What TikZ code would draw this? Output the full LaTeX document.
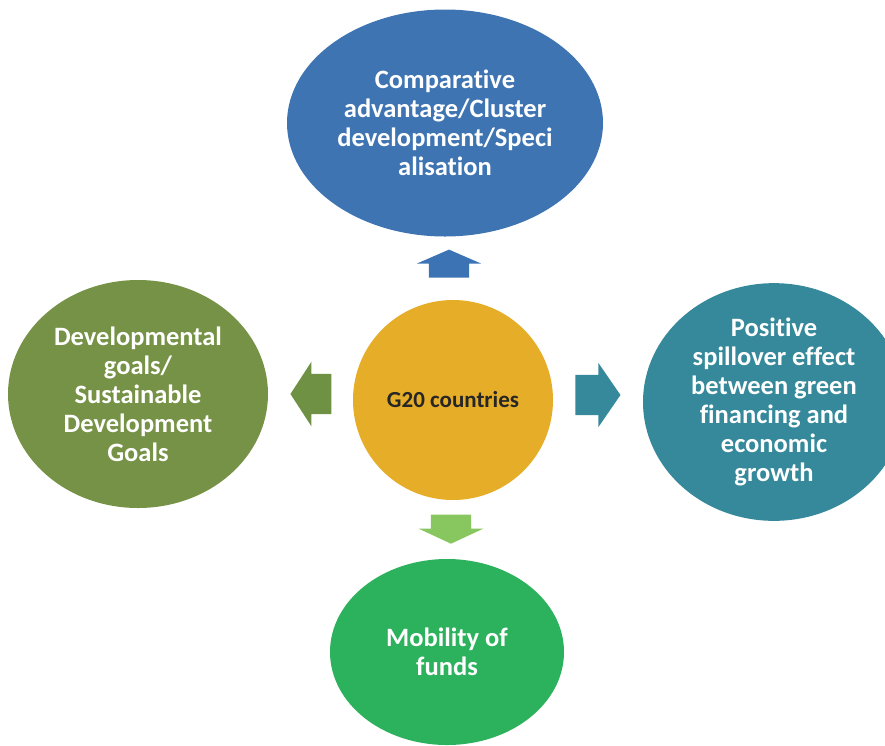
\documentclass[tikz,border=0pt]{standalone}
\usepackage{fontspec}
\setmainfont{Carlito}[Ligatures=NoCommon]
\usepackage{xcolor}
\usetikzlibrary{shapes.geometric,shapes.arrows}

\definecolor{topblue}{RGB}{62,116,178}
\definecolor{upblue}{RGB}{59,115,180}
\definecolor{hubgold}{RGB}{230,173,40}
\definecolor{olive}{RGB}{118,146,70}
\definecolor{olivearrow}{RGB}{110,145,68}
\definecolor{teal}{RGB}{53,137,155}
\definecolor{fundgreen}{RGB}{44,178,92}
\definecolor{lightgreen}{RGB}{136,199,96}

\begin{document}
\begin{tikzpicture}[x=1pt,y=-1pt,
    bubble/.style={ellipse,inner sep=0pt,align=center,text=white,font=\fontsize{26.5}{29}\selectfont\bfseries},
    blockarrow/.style={single arrow,inner xsep=0pt,inner ysep=20pt,single arrow head extend=12pt,single arrow head indent=0pt}]
    \useasboundingbox (0,0) rectangle (885,745);
    \clip (0,0) rectangle (885,745);

    % hub and the four outcomes
    \node[bubble,fill=hubgold,minimum width=200pt,minimum height=200pt,text=black!85,font=\fontsize{23}{27}\selectfont\bfseries] (hub) at (453,400) {G20 countries};
    \node[bubble,fill=topblue,minimum width=316pt,minimum height=227pt] (adv) at (445,123)
        {Comparative\\advantage/Cluster\\development/Speci\\alisation};
    \node[bubble,fill=olive,minimum width=260pt,minimum height=228pt] (sdg) at (138,394)
        {Developmental\\goals/\\Sustainable\\Development\\Goals};
    \node[bubble,fill=teal,minimum width=262pt,minimum height=234pt] (spill) at (774,402)
        {Positive\\spillover effect\\between green\\financing and\\economic\\growth};
    \node[bubble,fill=fundgreen,minimum width=234pt,minimum height=186pt] (funds) at (447,652)
        {Mobility of\\funds};

    % block arrows out of the hub
    \node[blockarrow,fill=upblue,minimum height=28pt,single arrow tip angle=133,rotate=90] (toadv) at (449,268) {};
    \node[blockarrow,fill=olivearrow,minimum height=41pt,single arrow tip angle=114,rotate=180] (tosdg) at (317.5,394) {};
    \node[blockarrow,fill=teal,minimum height=45pt,single arrow tip angle=111] (tospill) at (591,395) {};
    \node[blockarrow,fill=lightgreen,minimum height=29pt,single arrow tip angle=130,rotate=-90] (tofunds) at (451,524.5) {};
\end{tikzpicture}
\end{document}
